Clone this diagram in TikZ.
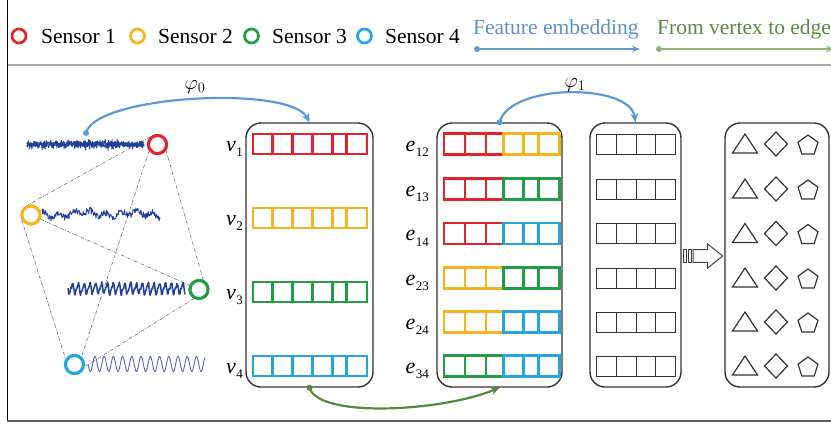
\documentclass[tikz,border=0pt]{standalone}
\usepackage{fontspec}
\setmainfont{Liberation Serif}
\usetikzlibrary{arrows.meta,calc,shapes.geometric}

\definecolor{cRed}{HTML}{E3232B}
\definecolor{cYel}{HTML}{F6B51F}
\definecolor{cGrn}{HTML}{1F9E45}
\definecolor{cBlu}{HTML}{22A5E0}
\definecolor{cSig}{HTML}{23409A}
\definecolor{cSine}{HTML}{5A62B4}
\definecolor{cArrB}{HTML}{5B9BD5}
\definecolor{cTxtB}{HTML}{5B8FC8}
\definecolor{cArrG}{HTML}{548B3A}
\definecolor{cTxtG}{HTML}{5A8A3E}
\definecolor{cLegG}{HTML}{93B27F}
\definecolor{cPanel}{HTML}{333333}
\definecolor{cLink}{HTML}{707070}

% italic letter with an upright index below it
\newcommand\idx[2]{\textit{#1}\kern0.3pt\raisebox{-0.55ex}{\fontsize{13}{13}\selectfont #2}}

% one vertex feature row: six cells in a single colour
\newcommand\featrow[2]{%
  \foreach \a/\b in {253/272.7,272.7/292.7,292.7/312.7,312.7/332.7,332.7/346.7,346.7/367}
    \draw[cellline=#2] (\a,#1-10) rectangle (\b,#1+10);}
% one edge row: three cells of each end vertex colour
\newcommand\edgerow[3]{%
  \foreach \a/\b in {444/465,465/486,486/503.3}
    \draw[cellline=#2] (\a,#1-10.5) rectangle (\b,#1+10.5);
  \foreach \a/\b in {503.3/523.3,523.3/538.3,538.3/559.3}
    \draw[cellline=#3] (\a,#1-10.5) rectangle (\b,#1+10.5);}
% one embedded edge row: four plain cells
\newcommand\outrow[1]{%
  \foreach \a/\b in {596/616.7,616.7/636,636/655.7,655.7/675}
    \draw[draw=cPanel,line width=1pt] (\a,#1-10) rectangle (\b,#1+10);}

\begin{document}
\begin{tikzpicture}[x=1pt,y=-1pt,
  sensor/.style={circle,draw=#1,fill=white,line width=3pt,minimum size=18pt,inner sep=0pt},
  legcirc/.style={circle,draw=#1,line width=2.7pt,minimum size=14pt,inner sep=0pt},
  legtext/.style={font=\fontsize{21.5}{24}\selectfont,inner sep=0pt,anchor=base west},
  panel/.style={draw=cPanel,line width=1.4pt,rounded corners=15pt,minimum width=#1,minimum height=264pt,inner sep=0pt},
  rowlbl/.style={font=\fontsize{22}{24}\selectfont,inner sep=0pt,anchor=base east},
  cellline/.style={draw=#1,line width=2.8pt},
  link/.style={draw=cLink,line width=0.6pt,dash pattern=on 3.5pt off 1.5pt on 0.8pt off 1.5pt},
  sig/.style={cSig,line width=0.9pt,line join=round},
  flowB/.style={cArrB,line width=2.2pt,-{Stealth[length=9pt,width=8pt]}},
  flowG/.style={cArrG,line width=2.2pt,-{Stealth[length=9pt,width=8pt]}},
  glyph/.style={draw=cPanel,line width=1.2pt,line join=miter},
  philbl/.style={font=\fontsize{21}{24}\selectfont,inner sep=0pt}
]
\useasboundingbox (0,0) rectangle (831,424);

% frame and legend separator
\draw[black,line width=1.5pt] (7.5,0) -- (7.5,421.5);
\draw[draw=black!65,line width=2.5pt] (6.75,420.8) -- (831,420.8);
\draw[draw=black!33,line width=2pt] (8.25,64.5) -- (831,64.5);

% ---------- legend ----------
\node[legcirc=cRed] (l1) at (19,36) {};
\node[legtext] (t1) at (41,43) {Sensor 1};
\node[legcirc=cYel] (l2) at (137.5,36) {};
\node[legtext] (t2) at (158,43) {Sensor 2};
\node[legcirc=cGrn] (l3) at (251.5,36) {};
\node[legtext] (t3) at (272,43) {Sensor 3};
\node[legcirc=cBlu] (l4) at (364.5,36) {};
\node[legtext] (t4) at (385,43) {Sensor 4};
\node[legtext,text=cTxtB] (tfe) at (473,34) {Feature embedding};
\node[legtext,text=cTxtG] (tve) at (657,34) {From vertex to edge};
\coordinate (fb0) at (477,49); \coordinate (fb1) at (640,49);
\coordinate (fg0) at (659,49); \coordinate (fg1) at (834,49);
\draw[cArrB,line width=2pt,-{Stealth[length=8pt,width=6.5pt]}] (fb0) -- (fb1);
\fill[cArrB] (fb0) circle (3pt);
\draw[cLegG,line width=2pt,-{Stealth[length=8pt,width=6.5pt]}] (fg0) -- (fg1);
\fill[cLegG] (fg0) circle (3pt);

% ---------- sensor graph ----------
\node[sensor=cRed] (s1) at (157.5,144.5) {};
\node[sensor=cYel] (s2) at (31,215) {};
\node[sensor=cGrn] (s3) at (199,289.5) {};
\node[sensor=cBlu] (s4) at (74.5,364.5) {};

\draw[link] (s1.134) -- (s2.107);
\draw[link] (s1.217) -- (s4.48);
\draw[link] (s1.325) -- (s3.66);
\draw[link] (s2) -- (s3);
\draw[link] (s2.207) -- (s4.148);
\draw[link] (s3.240) -- (s4.348);

% raw signals next to each sensor
\pgfmathsetseed{11}
\draw[sig] plot[domain=27:144,samples=380] (\x,{144.5+3.6*rand+6*rand*rand*rand});
\draw[sig,line width=1.2pt] plot[domain=27:144,samples=220] (\x,{144.5+2.2*rand});
\draw[sig] plot[domain=42:160,samples=250] (\x,{214+2.6*sin(\x*23)+1.8*sin(\x*7+40)+3.2*rand});
\draw[sig,line width=1.5pt] plot[variable=\t,domain=0:117,samples=300] ({68+\t},{288.5+4.8*sin(\t*62)+1.7*sin(\t*124)+1.3*rand});
\draw[cSine,line width=0.9pt] plot[domain=88:205,samples=300,smooth] (\x,{364+7.5*sin((\x-88)*39)});

% redraw sensor rings above the signals
\node[sensor=cRed] at (s1) {};
\node[sensor=cYel] at (s2) {};
\node[sensor=cGrn] at (s3) {};
\node[sensor=cBlu] at (s4) {};

% ---------- panels ----------
\node[panel=127pt] (P1) at (309.5,255) {};
\node[panel=125pt] (P2) at (499.5,255) {};
\node[panel=91pt]  (P3) at (635.5,255) {};
\node[panel=104pt] (P4) at (777,255) {};

% vertex features
\featrow{144}{cRed}
\featrow{218}{cYel}
\featrow{292}{cGrn}
\featrow{366}{cBlu}
\node[rowlbl] (lv1) at (243,151) {\idx{v}{1}};
\node[rowlbl] (lv2) at (243,225) {\idx{v}{2}};
\node[rowlbl] (lv3) at (243,299) {\idx{v}{3}};
\node[rowlbl] (lv4) at (243,373) {\idx{v}{4}};

% edge features
\edgerow{144}{cRed}{cYel}
\edgerow{189}{cRed}{cGrn}
\edgerow{233.5}{cRed}{cBlu}
\edgerow{278}{cYel}{cGrn}
\edgerow{322}{cYel}{cBlu}
\edgerow{366}{cGrn}{cBlu}
\node[rowlbl] (le12) at (429,151) {\idx{e}{12}};
\node[rowlbl] (le13) at (429,196) {\idx{e}{13}};
\node[rowlbl] (le14) at (429,240.5) {\idx{e}{14}};
\node[rowlbl] (le23) at (429,285) {\idx{e}{23}};
\node[rowlbl] (le24) at (429,329) {\idx{e}{24}};
\node[rowlbl] (le34) at (429,373) {\idx{e}{34}};

% embedded edges and their classes
\foreach \y [count=\i] in {144,189,233.5,278,322,366}{
  \outrow{\y}
  \draw[glyph] (745,\y-10) -- (757.5,\y+9) -- (732.5,\y+9) -- cycle;
  \draw[glyph] (776,\y-12) -- (787.5,\y) -- (776,\y+12) -- (764.5,\y) -- cycle;
  \node[glyph,regular polygon,regular polygon sides=5,minimum size=21pt,inner sep=0pt] (pg\i) at (808,\y+1.5) {};
}

% striped block arrow between the last two panels
\draw[draw=black!75,line width=1pt] (683.3,249.7) rectangle (686.3,262.3);
\draw[draw=black!75,line width=1pt] (688.3,249.7) rectangle (691.3,262.3);
\draw[draw=black!75,line width=1pt,line join=miter]
  (693,249.7) -- (707.7,249.7) -- (707.7,244) -- (722.7,256) -- (707.7,268) -- (707.7,262.3) -- (693,262.3) -- cycle;

% ---------- mappings ----------
\coordinate (tap) at (86,133);
\draw[flowB] (tap) .. controls (95,95) and (290,85) .. (P1.north);
\fill[cArrB] (tap) circle (3pt);
\node[philbl] (phi0) at (195,87) {$\varphi_0$};

\draw[flowB] (P2.north) .. controls (510,83) and (630,83) .. (P3.north);
\fill[cArrB] (P2.north) circle (3pt);
\node[philbl] (phi1) at (575,85) {$\varphi_1$};

\draw[flowG] (P1.south) .. controls (318,418) and (440,412) .. (P2.south);
\fill[cArrG] (P1.south) circle (3pt);
\end{tikzpicture}
\end{document}
